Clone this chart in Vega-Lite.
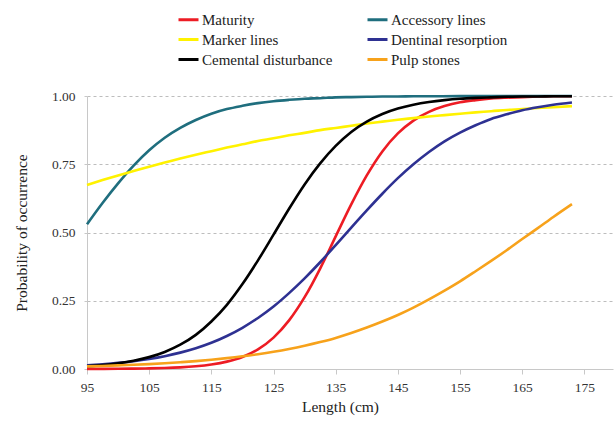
{
  "$schema": "https://vega.github.io/schema/vega-lite/v6.json",
  "width": 526,
  "height": 273,
  "autosize": {"type": "none"},
  "padding": {"left": 87, "top": 96, "right": 3, "bottom": 52},
  "background": "white",
  "config": {
    "font": "Liberation Serif",
    "view": {"stroke": null},
    "axis": {"labelFont": "Liberation Serif", "titleFont": "Liberation Serif", "labelColor": "#333", "titleColor": "#222", "labelFontSize": 13.5, "titleFontSize": 15.5, "titleFontWeight": "normal"},
    "legend": {"labelFont": "Liberation Serif", "labelFontSize": 15, "labelColor": "#222"}
  },
  "data": {"values": [
    {"x": 95, "s": "Maturity", "p": 0.0004},
    {"x": 97.5, "s": "Maturity", "p": 0.0006},
    {"x": 100, "s": "Maturity", "p": 0.0009},
    {"x": 102.5, "s": "Maturity", "p": 0.0014},
    {"x": 105, "s": "Maturity", "p": 0.0022},
    {"x": 107.5, "s": "Maturity", "p": 0.0036},
    {"x": 110, "s": "Maturity", "p": 0.0060},
    {"x": 112.5, "s": "Maturity", "p": 0.0100},
    {"x": 115, "s": "Maturity", "p": 0.0165},
    {"x": 117.5, "s": "Maturity", "p": 0.0270},
    {"x": 120, "s": "Maturity", "p": 0.0440},
    {"x": 122.5, "s": "Maturity", "p": 0.0720},
    {"x": 125, "s": "Maturity", "p": 0.115},
    {"x": 127.5, "s": "Maturity", "p": 0.178},
    {"x": 130, "s": "Maturity", "p": 0.263},
    {"x": 132.5, "s": "Maturity", "p": 0.368},
    {"x": 135, "s": "Maturity", "p": 0.486},
    {"x": 137.5, "s": "Maturity", "p": 0.603},
    {"x": 140, "s": "Maturity", "p": 0.709},
    {"x": 142.5, "s": "Maturity", "p": 0.797},
    {"x": 145, "s": "Maturity", "p": 0.863},
    {"x": 147.5, "s": "Maturity", "p": 0.910},
    {"x": 150, "s": "Maturity", "p": 0.942},
    {"x": 152.5, "s": "Maturity", "p": 0.963},
    {"x": 155, "s": "Maturity", "p": 0.977},
    {"x": 157.5, "s": "Maturity", "p": 0.985},
    {"x": 160, "s": "Maturity", "p": 0.991},
    {"x": 162.5, "s": "Maturity", "p": 0.994},
    {"x": 165, "s": "Maturity", "p": 0.996},
    {"x": 167.5, "s": "Maturity", "p": 0.998},
    {"x": 170, "s": "Maturity", "p": 0.999},
    {"x": 173, "s": "Maturity", "p": 0.999},

    {"x": 95, "s": "Accessory lines", "p": 0.530},
    {"x": 97.5, "s": "Accessory lines", "p": 0.608},
    {"x": 100, "s": "Accessory lines", "p": 0.680},
    {"x": 102.5, "s": "Accessory lines", "p": 0.745},
    {"x": 105, "s": "Accessory lines", "p": 0.801},
    {"x": 107.5, "s": "Accessory lines", "p": 0.847},
    {"x": 110, "s": "Accessory lines", "p": 0.883},
    {"x": 112.5, "s": "Accessory lines", "p": 0.912},
    {"x": 115, "s": "Accessory lines", "p": 0.935},
    {"x": 117.5, "s": "Accessory lines", "p": 0.952},
    {"x": 120, "s": "Accessory lines", "p": 0.964},
    {"x": 122.5, "s": "Accessory lines", "p": 0.974},
    {"x": 125, "s": "Accessory lines", "p": 0.981},
    {"x": 127.5, "s": "Accessory lines", "p": 0.986},
    {"x": 130, "s": "Accessory lines", "p": 0.990},
    {"x": 132.5, "s": "Accessory lines", "p": 0.992},
    {"x": 135, "s": "Accessory lines", "p": 0.995},
    {"x": 137.5, "s": "Accessory lines", "p": 0.996},
    {"x": 140, "s": "Accessory lines", "p": 0.997},
    {"x": 142.5, "s": "Accessory lines", "p": 0.998},
    {"x": 145, "s": "Accessory lines", "p": 0.998},
    {"x": 147.5, "s": "Accessory lines", "p": 0.999},
    {"x": 150, "s": "Accessory lines", "p": 0.999},
    {"x": 155, "s": "Accessory lines", "p": 0.9995},
    {"x": 160, "s": "Accessory lines", "p": 1.0},
    {"x": 165, "s": "Accessory lines", "p": 1.0},
    {"x": 170, "s": "Accessory lines", "p": 1.0},
    {"x": 173, "s": "Accessory lines", "p": 1.0},

    {"x": 95, "s": "Marker lines", "p": 0.674},
    {"x": 97.5, "s": "Marker lines", "p": 0.692},
    {"x": 100, "s": "Marker lines", "p": 0.709},
    {"x": 102.5, "s": "Marker lines", "p": 0.725},
    {"x": 105, "s": "Marker lines", "p": 0.741},
    {"x": 107.5, "s": "Marker lines", "p": 0.756},
    {"x": 110, "s": "Marker lines", "p": 0.771},
    {"x": 112.5, "s": "Marker lines", "p": 0.785},
    {"x": 115, "s": "Marker lines", "p": 0.798},
    {"x": 117.5, "s": "Marker lines", "p": 0.811},
    {"x": 120, "s": "Marker lines", "p": 0.823},
    {"x": 122.5, "s": "Marker lines", "p": 0.835},
    {"x": 125, "s": "Marker lines", "p": 0.845},
    {"x": 127.5, "s": "Marker lines", "p": 0.856},
    {"x": 130, "s": "Marker lines", "p": 0.865},
    {"x": 132.5, "s": "Marker lines", "p": 0.875},
    {"x": 135, "s": "Marker lines", "p": 0.883},
    {"x": 137.5, "s": "Marker lines", "p": 0.891},
    {"x": 140, "s": "Marker lines", "p": 0.899},
    {"x": 142.5, "s": "Marker lines", "p": 0.906},
    {"x": 145, "s": "Marker lines", "p": 0.913},
    {"x": 147.5, "s": "Marker lines", "p": 0.919},
    {"x": 150, "s": "Marker lines", "p": 0.925},
    {"x": 152.5, "s": "Marker lines", "p": 0.930},
    {"x": 155, "s": "Marker lines", "p": 0.935},
    {"x": 157.5, "s": "Marker lines", "p": 0.940},
    {"x": 160, "s": "Marker lines", "p": 0.944},
    {"x": 162.5, "s": "Marker lines", "p": 0.949},
    {"x": 165, "s": "Marker lines", "p": 0.952},
    {"x": 167.5, "s": "Marker lines", "p": 0.956},
    {"x": 170, "s": "Marker lines", "p": 0.959},
    {"x": 173, "s": "Marker lines", "p": 0.963},

    {"x": 95, "s": "Dentinal resorption", "p": 0.0135},
    {"x": 97.5, "s": "Dentinal resorption", "p": 0.0174},
    {"x": 100, "s": "Dentinal resorption", "p": 0.0223},
    {"x": 102.5, "s": "Dentinal resorption", "p": 0.0287},
    {"x": 105, "s": "Dentinal resorption", "p": 0.0368},
    {"x": 107.5, "s": "Dentinal resorption", "p": 0.047},
    {"x": 110, "s": "Dentinal resorption", "p": 0.060},
    {"x": 112.5, "s": "Dentinal resorption", "p": 0.076},
    {"x": 115, "s": "Dentinal resorption", "p": 0.096},
    {"x": 117.5, "s": "Dentinal resorption", "p": 0.121},
    {"x": 120, "s": "Dentinal resorption", "p": 0.151},
    {"x": 122.5, "s": "Dentinal resorption", "p": 0.187},
    {"x": 125, "s": "Dentinal resorption", "p": 0.229},
    {"x": 127.5, "s": "Dentinal resorption", "p": 0.278},
    {"x": 130, "s": "Dentinal resorption", "p": 0.332},
    {"x": 132.5, "s": "Dentinal resorption", "p": 0.391},
    {"x": 135, "s": "Dentinal resorption", "p": 0.454},
    {"x": 137.5, "s": "Dentinal resorption", "p": 0.518},
    {"x": 140, "s": "Dentinal resorption", "p": 0.581},
    {"x": 142.5, "s": "Dentinal resorption", "p": 0.642},
    {"x": 145, "s": "Dentinal resorption", "p": 0.699},
    {"x": 147.5, "s": "Dentinal resorption", "p": 0.750},
    {"x": 150, "s": "Dentinal resorption", "p": 0.795},
    {"x": 152.5, "s": "Dentinal resorption", "p": 0.834},
    {"x": 155, "s": "Dentinal resorption", "p": 0.866},
    {"x": 157.5, "s": "Dentinal resorption", "p": 0.893},
    {"x": 160, "s": "Dentinal resorption", "p": 0.916},
    {"x": 162.5, "s": "Dentinal resorption", "p": 0.933},
    {"x": 165, "s": "Dentinal resorption", "p": 0.948},
    {"x": 167.5, "s": "Dentinal resorption", "p": 0.959},
    {"x": 170, "s": "Dentinal resorption", "p": 0.968},
    {"x": 173, "s": "Dentinal resorption", "p": 0.976},

    {"x": 95, "s": "Cemental disturbance", "p": 0.0098},
    {"x": 97.5, "s": "Cemental disturbance", "p": 0.0142},
    {"x": 100, "s": "Cemental disturbance", "p": 0.0207},
    {"x": 102.5, "s": "Cemental disturbance", "p": 0.0301},
    {"x": 105, "s": "Cemental disturbance", "p": 0.0435},
    {"x": 107.5, "s": "Cemental disturbance", "p": 0.0625},
    {"x": 110, "s": "Cemental disturbance", "p": 0.089},
    {"x": 112.5, "s": "Cemental disturbance", "p": 0.125},
    {"x": 115, "s": "Cemental disturbance", "p": 0.174},
    {"x": 117.5, "s": "Cemental disturbance", "p": 0.235},
    {"x": 120, "s": "Cemental disturbance", "p": 0.311},
    {"x": 122.5, "s": "Cemental disturbance", "p": 0.398},
    {"x": 125, "s": "Cemental disturbance", "p": 0.492},
    {"x": 127.5, "s": "Cemental disturbance", "p": 0.587},
    {"x": 130, "s": "Cemental disturbance", "p": 0.676},
    {"x": 132.5, "s": "Cemental disturbance", "p": 0.753},
    {"x": 135, "s": "Cemental disturbance", "p": 0.817},
    {"x": 137.5, "s": "Cemental disturbance", "p": 0.868},
    {"x": 140, "s": "Cemental disturbance", "p": 0.906},
    {"x": 142.5, "s": "Cemental disturbance", "p": 0.934},
    {"x": 145, "s": "Cemental disturbance", "p": 0.954},
    {"x": 147.5, "s": "Cemental disturbance", "p": 0.968},
    {"x": 150, "s": "Cemental disturbance", "p": 0.978},
    {"x": 152.5, "s": "Cemental disturbance", "p": 0.985},
    {"x": 155, "s": "Cemental disturbance", "p": 0.990},
    {"x": 157.5, "s": "Cemental disturbance", "p": 0.993},
    {"x": 160, "s": "Cemental disturbance", "p": 0.995},
    {"x": 162.5, "s": "Cemental disturbance", "p": 0.997},
    {"x": 165, "s": "Cemental disturbance", "p": 0.998},
    {"x": 167.5, "s": "Cemental disturbance", "p": 0.998},
    {"x": 170, "s": "Cemental disturbance", "p": 0.999},
    {"x": 173, "s": "Cemental disturbance", "p": 0.999},

    {"x": 95, "s": "Pulp stones", "p": 0.0095},
    {"x": 97.5, "s": "Pulp stones", "p": 0.0112},
    {"x": 100, "s": "Pulp stones", "p": 0.0131},
    {"x": 102.5, "s": "Pulp stones", "p": 0.0154},
    {"x": 105, "s": "Pulp stones", "p": 0.0180},
    {"x": 107.5, "s": "Pulp stones", "p": 0.0211},
    {"x": 110, "s": "Pulp stones", "p": 0.0248},
    {"x": 112.5, "s": "Pulp stones", "p": 0.0290},
    {"x": 115, "s": "Pulp stones", "p": 0.0340},
    {"x": 117.5, "s": "Pulp stones", "p": 0.0397},
    {"x": 120, "s": "Pulp stones", "p": 0.0464},
    {"x": 122.5, "s": "Pulp stones", "p": 0.0542},
    {"x": 125, "s": "Pulp stones", "p": 0.0631},
    {"x": 127.5, "s": "Pulp stones", "p": 0.0734},
    {"x": 130, "s": "Pulp stones", "p": 0.0853},
    {"x": 132.5, "s": "Pulp stones", "p": 0.0988},
    {"x": 135, "s": "Pulp stones", "p": 0.114},
    {"x": 137.5, "s": "Pulp stones", "p": 0.132},
    {"x": 140, "s": "Pulp stones", "p": 0.152},
    {"x": 142.5, "s": "Pulp stones", "p": 0.174},
    {"x": 145, "s": "Pulp stones", "p": 0.198},
    {"x": 147.5, "s": "Pulp stones", "p": 0.225},
    {"x": 150, "s": "Pulp stones", "p": 0.255},
    {"x": 152.5, "s": "Pulp stones", "p": 0.287},
    {"x": 155, "s": "Pulp stones", "p": 0.321},
    {"x": 157.5, "s": "Pulp stones", "p": 0.358},
    {"x": 160, "s": "Pulp stones", "p": 0.396},
    {"x": 162.5, "s": "Pulp stones", "p": 0.435},
    {"x": 165, "s": "Pulp stones", "p": 0.476},
    {"x": 167.5, "s": "Pulp stones", "p": 0.516},
    {"x": 170, "s": "Pulp stones", "p": 0.557},
    {"x": 173, "s": "Pulp stones", "p": 0.604}
  ]},
  "mark": {"type": "line", "strokeWidth": 2.6, "interpolate": "monotone", "clip": false},
  "encoding": {
    "x": {
      "field": "x", "type": "quantitative",
      "scale": {"domain": [95, 179.6], "nice": false, "zero": false},
      "axis": {
        "title": "Length (cm)", "values": [95, 105, 115, 125, 135, 145, 155, 165, 175],
        "grid": false, "domainColor": "#c8c8c8", "tickColor": "#c8c8c8", "tickSize": 5,
        "labelPadding": 6, "titlePadding": 6, "titleX": 253, "labelFlush": false
      }
    },
    "y": {
      "field": "p", "type": "quantitative",
      "scale": {"domain": [0, 1], "nice": false},
      "axis": {
        "title": "Probability of occurrence", "values": [0, 0.25, 0.5, 0.75, 1], "format": ".2f",
        "grid": true, "gridColor": "#bdbdbd", "gridDash": [3, 3], "gridWidth": 1,
        "domainColor": "#c8c8c8", "tickColor": "#c8c8c8", "tickSize": 5, "tickDash": [3, 2],
        "labelPadding": 7, "titlePadding": 22
      }
    },
    "color": {
      "field": "s", "type": "nominal",
      "sort": ["Maturity", "Marker lines", "Cemental disturbance", "Accessory lines", "Dentinal resorption", "Pulp stones"],
      "scale": {
        "domain": ["Maturity", "Marker lines", "Cemental disturbance", "Accessory lines", "Dentinal resorption", "Pulp stones"],
        "range": ["#ed1c24", "#fff200", "#000000", "#1f6e7e", "#2e3192", "#f7a21b"]
      },
      "legend": {
        "title": null, "orient": "none", "legendX": 90, "legendY": -88,
        "columns": 2, "columnPadding": 28, "rowPadding": -1.5,
        "symbolType": "stroke", "symbolStrokeWidth": 3, "symbolSize": 400, "labelOffset": 2
      }
    }
  }
}
